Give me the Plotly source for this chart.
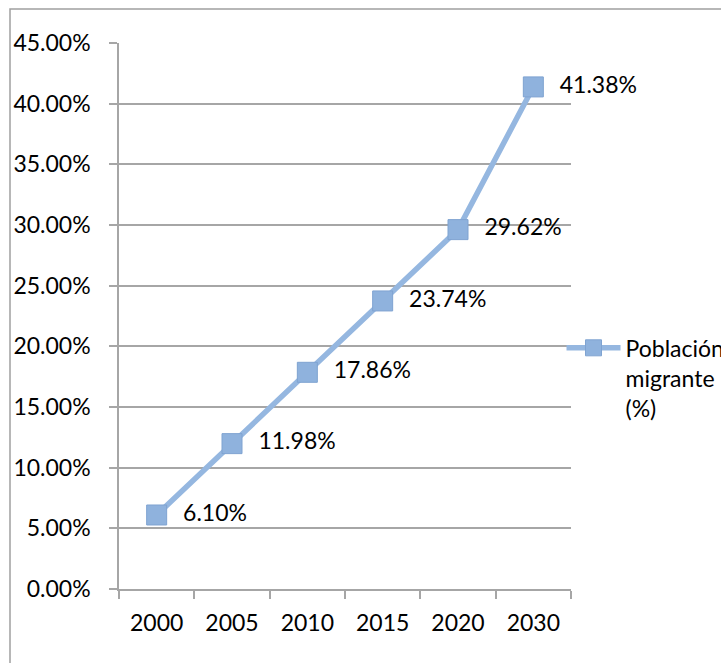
import plotly.graph_objects as go

# Población migrante por año (%)
years = ["2000", "2005", "2010", "2015", "2020", "2030"]
migrant_pct = [6.10, 11.98, 17.86, 23.74, 29.62, 41.38]
series_name = "Población<br>migrante<br>(%)"

FONT = "Lato, Calibri, Carlito, sans-serif"
GRID = "#A6A6A6"
LINE_BLUE = "#95B7E0"
MARKER_BLUE = "#8FB2DD"

# small gap between marker and its value label
LABEL_GAP = "\u2002\u200a"

fig = go.Figure()
fig.add_trace(go.Scatter(
    x=years,
    y=migrant_pct,
    name=series_name,
    mode="lines+markers+text",
    line=dict(color=LINE_BLUE, width=5.5),
    marker=dict(symbol="square", size=20, color=MARKER_BLUE,
                line=dict(color="#7FA3D1", width=1)),
    text=[f"{LABEL_GAP}{v:.2f}%" for v in migrant_pct],
    textposition="middle right",
    textfont=dict(family=FONT, size=23, color="#000000"),
    cliponaxis=False,
))

fig.update_layout(
    width=721, height=663,
    margin=dict(l=119, r=150, t=43, b=74, autoexpand=False),
    paper_bgcolor="white", plot_bgcolor="white",
    font=dict(family=FONT, size=23, color="#000000"),
    showlegend=True,
    legend=dict(x=0.979, y=0.481, xanchor="left", yanchor="top",
                itemwidth=54, valign="top",
                font=dict(family=FONT, size=23, color="#000000"),
                bgcolor="rgba(0,0,0,0)"),
    xaxis=dict(type="category", range=[-0.5, 5.5],
               showgrid=False, showline=True, linecolor=GRID, linewidth=1.5,
               ticks="outside", ticklen=8, tickcolor=GRID, tickwidth=1.5,
               tickson="boundaries", ticklabelstandoff=13),
    yaxis=dict(range=[0, 45], dtick=5, tickformat=".2f", ticksuffix="%",
               showgrid=True, gridcolor=GRID, gridwidth=1.5,
               showline=True, linecolor=GRID, linewidth=1.5,
               ticks="outside", ticklen=8, tickcolor=GRID, tickwidth=1.5,
               ticklabelstandoff=14, zeroline=False),
    shapes=[dict(type="rect", xref="paper", yref="paper",
                 x0=(10 - 119) / 452, x1=2.0,
                 y0=-1.0, y1=(589 - 9) / 546,
                 line=dict(color="#A0A0A0", width=1.5), layer="below")],
)

fig.write_html("out.html")
